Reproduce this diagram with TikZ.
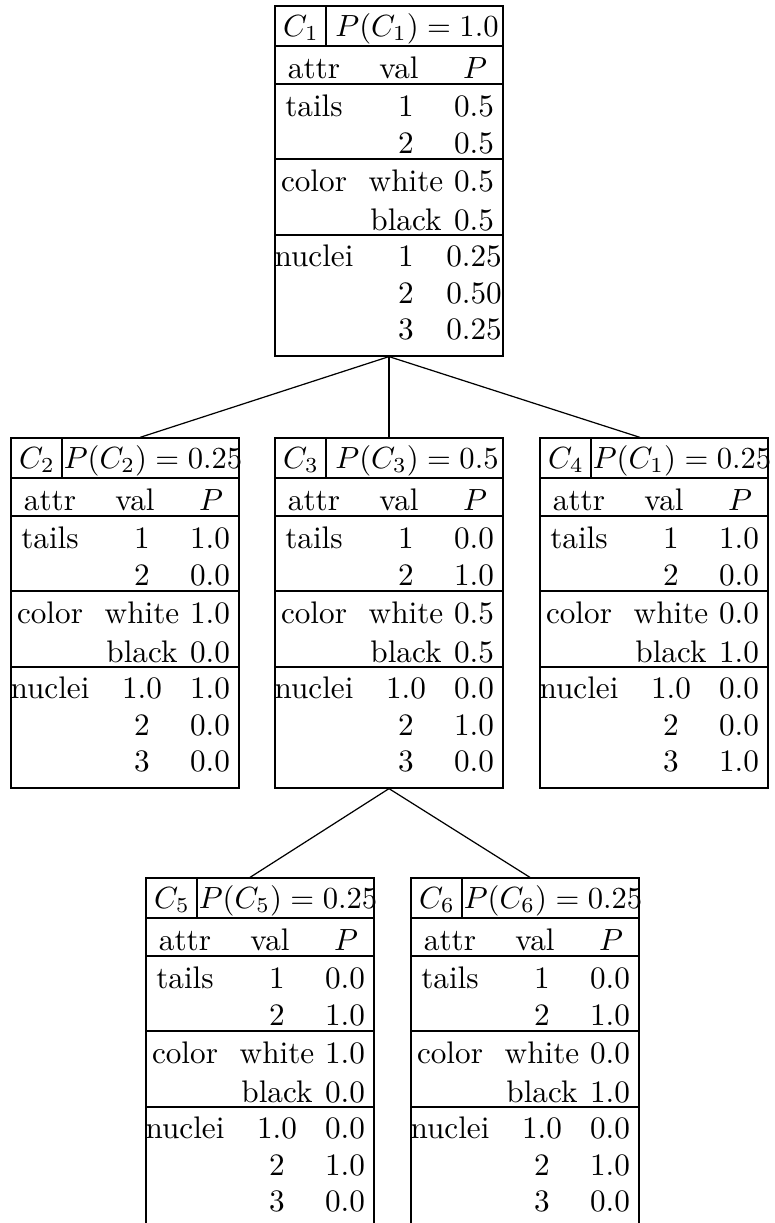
\documentclass[tikz,border=0pt]{standalone}
\usepackage{amssymb,amsmath}
\usepackage{tikz}
\usetikzlibrary{%
  calc,%
  fit%
}

\tikzset{
  frame/.style={draw,line width=0.4pt,inner sep=0pt},
  cell/.style={anchor=base,inner sep=0pt,font=\fontsize{10.2pt}{12.2pt}\selectfont},
  rule/.style={line width=0.4pt},
}

% header of one cluster table, drawn in a shifted scope
\newcommand{\clusterhead}[3]{%
  \def\cname{#1}%
  \node[frame,fit={(0,0) (228,350)}] (#1) {};
  \draw[rule] (51,0) -- (51,40);
  \node[cell] (#1-id) at (26,30) {$#2$};
  \node[cell] (#1-prob) at (142,30) {$#3$};
}

% rows: #1 first nuclei value, #2-#8 the probabilities
\newcommand{\clusterrows}[8]{%
  \draw[rule] (0,40) -- (228,40) (0,78) -- (228,78)
    (0,153) -- (228,153) (0,229) -- (228,229);
  \node[cell] (\cname-attr) at (39,72) {attr};
  \node[cell] (\cname-val) at (124,72) {val};
  \node[cell] (\cname-p) at (200,72) {$P$};
  \node[cell] (\cname-tails) at (39,110) {tails};
  \node[cell] (\cname-t1) at (131,110) {1};
  \node[cell] (\cname-pt1) at (199,110) {#2};
  \node[cell] (\cname-t2) at (131,147) {2};
  \node[cell] (\cname-pt2) at (199,147) {#3};
  \node[cell] (\cname-color) at (39,185) {color};
  \node[cell] (\cname-white) at (131,185) {white};
  \node[cell] (\cname-pw) at (199,185) {#4};
  \node[cell] (\cname-black) at (131,224) {black};
  \node[cell] (\cname-pb) at (199,224) {#5};
  \node[cell] (\cname-nuclei) at (39,260) {nuclei};
  \node[cell] (\cname-n1) at (131,260) {#1};
  \node[cell] (\cname-pn1) at (199,260) {#6};
  \node[cell] (\cname-n2) at (131,297) {2};
  \node[cell] (\cname-pn2) at (199,297) {#7};
  \node[cell] (\cname-n3) at (131,333) {3};
  \node[cell] (\cname-pn3) at (199,333) {#8};
}

\begin{document}
\begin{tikzpicture}[x=0.3268pt,y=-0.3268pt]
  \fill[white] (0,0) rectangle (774,1223);
  \useasboundingbox (0,0) rectangle (774,1223);

  \begin{scope}[shift={(275,6)}]
    \clusterhead{c1}{C_1}{P(C_1) = 1.0}
    \clusterrows{1}{0.5}{0.5}{0.5}{0.5}{0.25}{0.50}{0.25}
  \end{scope}

  \begin{scope}[shift={(11,438)}]
    \clusterhead{c2}{C_2}{P(C_2) = 0.25}
    \clusterrows{1.0}{1.0}{0.0}{1.0}{0.0}{1.0}{0.0}{0.0}
  \end{scope}

  \begin{scope}[shift={(275,438)}]
    \clusterhead{c3}{C_3}{P(C_3) = 0.5}
    \clusterrows{1.0}{0.0}{1.0}{0.5}{0.5}{0.0}{1.0}{0.0}
  \end{scope}

  \begin{scope}[shift={(540,438)}]
    \clusterhead{c4}{C_4}{P(C_1) = 0.25}
    \clusterrows{1.0}{1.0}{0.0}{0.0}{1.0}{0.0}{0.0}{1.0}
  \end{scope}

  \begin{scope}[shift={(146,878)}]
    \clusterhead{c5}{C_5}{P(C_5) = 0.25}
    \clusterrows{1.0}{0.0}{1.0}{1.0}{0.0}{0.0}{1.0}{0.0}
  \end{scope}

  \begin{scope}[shift={(411,878)}]
    \clusterhead{c6}{C_6}{P(C_6) = 0.25}
    \clusterrows{1.0}{0.0}{1.0}{0.0}{1.0}{0.0}{1.0}{0.0}
  \end{scope}

  % tree edges
  \draw (c1.south) -- ($(c2.north)+(15,0)$);
  \draw (c1.south) -- (c3.north);
  \draw (c1.south) -- ($(c4.north)+(-14,0)$);
  \draw (c3.south) -- ($(c5.north)+(-10,0)$);
  \draw (c3.south) -- ($(c6.north)+(5,0)$);
\end{tikzpicture}
\end{document}
